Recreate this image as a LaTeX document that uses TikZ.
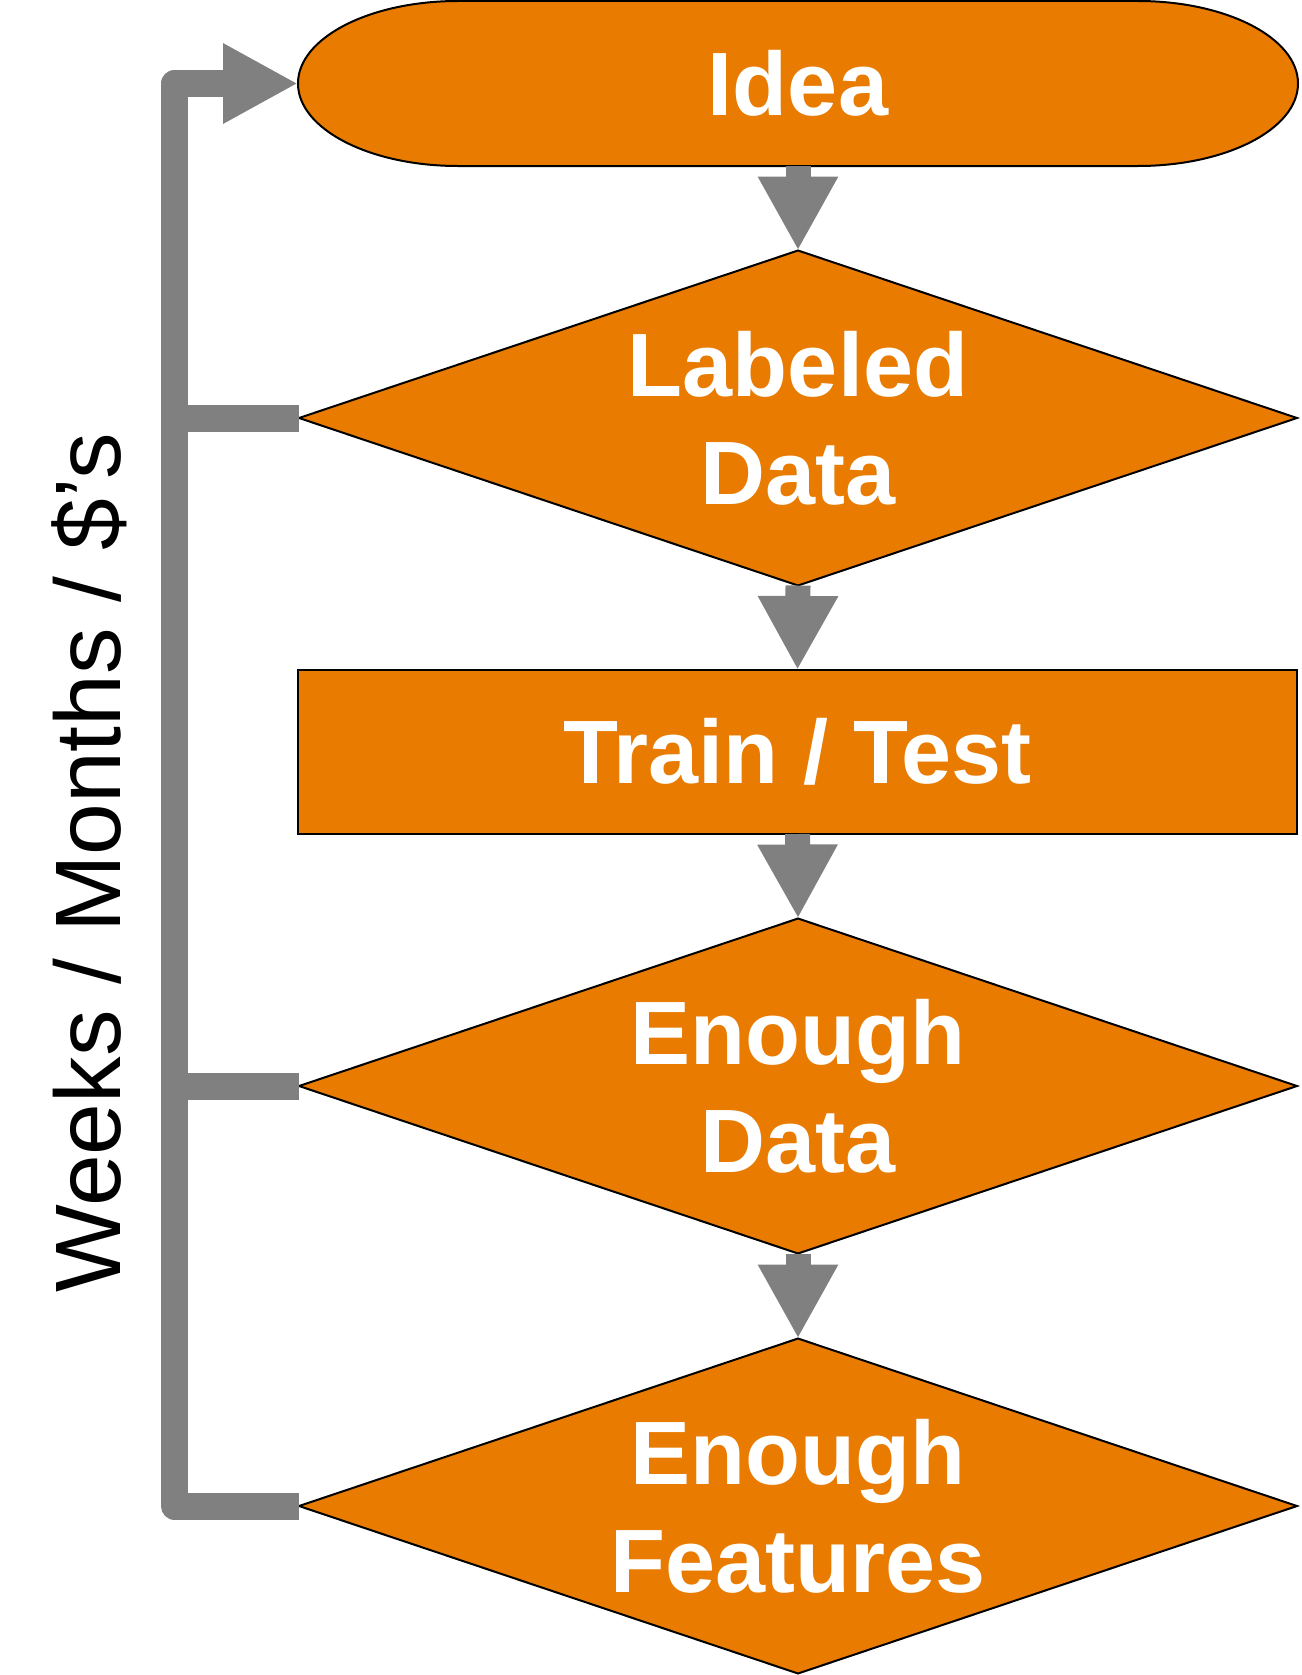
\documentclass[tikz,border=0pt]{standalone}
\usepackage{fontspec}
\setmainfont{Liberation Sans}
\usetikzlibrary{shapes.geometric,arrows.meta}
\definecolor{flowor}{RGB}{232,123,0}
\definecolor{flowgray}{RGB}{128,128,128}
\begin{document}
\begin{tikzpicture}[x=1pt,y=-1pt,
  box/.style={draw=black,line width=2pt,fill=flowor,inner sep=0pt,outer sep=0pt},
  decision/.style={box,diamond,minimum width=998pt,minimum height=335pt},
  boxtext/.style={text=white,font=\bfseries\fontsize{90}{108}\selectfont,align=center},
  flow/.style={draw=flowgray,line width=25pt,-{Triangle[length=74pt,width=75pt]}},
  loop/.style={draw=flowgray,line width=27pt,line join=round}]
\useasboundingbox (0,0) rectangle (1301,1675);

% terminator outline with elliptical ends
\filldraw[box] (458,1) -- (1138,1)
  arc[start angle=90,end angle=-90,x radius=160pt,y radius=82.5pt]
  -- (458,166)
  arc[start angle=270,end angle=90,x radius=160pt,y radius=82.5pt] -- cycle;
\node[boxtext,minimum width=1000pt,minimum height=165pt,inner sep=0pt,outer sep=0pt]
  (idea) at (798,83.5) {Idea};

\node[decision,label={[boxtext]center:{Labeled\\Data}}] (ld) at (798,418) {};
\node[box,boxtext,minimum width=999pt,minimum height=164pt] (tt) at (797.5,752) {Train / Test};
\node[decision,label={[boxtext]center:{Enough\\Data}}] (ed) at (798,1086) {};
\node[decision,label={[boxtext]center:{Enough\\Features}}] (ef) at (798,1506) {};

% downward flow
\draw[flow] (idea.south) -- (ld.north);
\draw[flow] (ld.south) -- (tt.north);
\draw[flow] (tt.south) -- (ed.north);
\draw[flow] (ed.south) -- (ef.north);

% feedback rail on the left
\coordinate (rail) at (174.5,0);
\draw[loop,-{Triangle[length=75pt,width=75pt]}] (ef.west) -- (ef.west -| rail) |- (idea.west);
\draw[loop] (ld.west -| rail) -- (ld.west);
\draw[loop] (ed.west -| rail) -- (ed.west);

\node[rotate=90,anchor=base,font=\fontsize{93}{110}\selectfont] (span) at (120,863)
  {Weeks / Months / \$'s};
\end{tikzpicture}
\end{document}
